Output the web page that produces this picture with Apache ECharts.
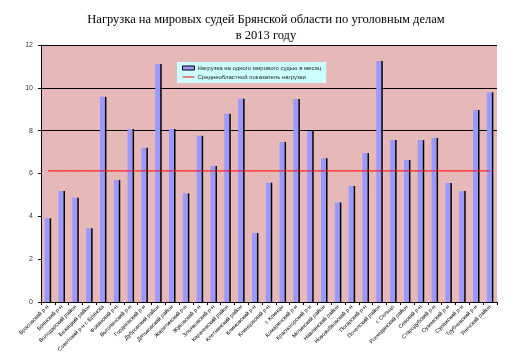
<!DOCTYPE html>
<html>
<head>
<meta charset="utf-8">
<script src="https://cdn.jsdelivr.net/npm/echarts@6/dist/echarts.min.js"></script>
<style>html,body{margin:0;padding:0;background:#fff}#c{width:532px;height:362px}</style>
</head>
<body>
<div id="c"></div>
<script>
var categories = [
  'Брасовский р-н', 'Брянский р-н', 'Володарский район', 'Бежицкий район', 'Советский р-н г. Брянска',
  'Фокинский р-н', 'Выгоничский р-н', 'Гордеевский р-н', 'Дубровский район', 'Дятьковский район',
  'Жирятинский р-н', 'Жуковский р-н', 'Злынковский р-н', 'Карачевский район', 'Клетнянский район',
  'Климовский р-н', 'Клинцовский р-н', 'г. Клинцы', 'Комаричский р-н', 'Красногорский р-н',
  'Мглинский район', 'Навлинский район', 'Новозыбковский р-н', 'Погарский р-н', 'Почепский район',
  'г. Сельцо', 'Рогнединский район', 'Севский р-н', 'Стародубский р-н', 'Суземский р-н',
  'Суражский р-н', 'Трубчевский р-н', 'Унечский район'
];
var loadPerJudge = [
  3.91, 5.18, 4.87, 3.44, 9.58, 5.70, 8.08, 7.20, 11.11, 8.08,
  5.07, 7.76, 6.35, 8.79, 9.49, 3.22, 5.57, 7.47, 9.48, 7.98,
  6.71, 4.65, 5.42, 6.96, 11.25, 7.56, 6.63, 7.56, 7.66, 5.56,
  5.18, 8.96, 9.79
];
var regionalAverage = [
  6.12, 6.12, 6.12, 6.12, 6.12, 6.12, 6.12, 6.12, 6.12, 6.12,
  6.12, 6.12, 6.12, 6.12, 6.12, 6.12, 6.12, 6.12, 6.12, 6.12,
  6.12, 6.12, 6.12, 6.12, 6.12, 6.12, 6.12, 6.12, 6.12, 6.12,
  6.12, 6.12, 6.12
];
var yTicks = [0, 2, 4, 6, 8, 10, 12];
var titleText = 'Нагрузка на мировых судей Брянской области по уголовным делам\nв 2013 году';
var seriesNames = ['Нагрузка на одного мирового судью в месяц', 'Среднеобластной показатель нагрузки'];

var chart = echarts.init(document.getElementById('c'), null, {renderer: 'canvas'});
chart.setOption({
  animation: false,
  backgroundColor: '#ffffff',
  title: {
    text: titleText,
    left: 'center',
    top: 7,
    textStyle: {fontFamily: 'Liberation Serif', fontSize: 12.5, fontWeight: 'normal', color: '#000', lineHeight: 16}
  },
  legend: {
    data: [
      {name: seriesNames[0], icon: 'rect', itemStyle: {borderColor: '#000', borderWidth: 1}},
      {name: seriesNames[1], lineStyle: {width: 1}, itemStyle: {opacity: 0}}
    ],
    orient: 'vertical',
    left: 177,
    top: 62,
    width: 169,
    padding: [3, 5, 3, 5],
    itemGap: 3,
    itemWidth: 12,
    itemHeight: 4,
    backgroundColor: '#CCFFFF',
    textStyle: {fontFamily: 'Liberation Sans', fontSize: 6, color: '#222', padding: [0, 0, 0, -2]}
  },
  grid: {left: 41, right: 35, top: 45, bottom: 60, show: true, backgroundColor: '#E6B9B8', borderWidth: 0},
  xAxis: {
    type: 'category',
    data: categories,
    axisLine: {lineStyle: {color: '#000', width: 1}},
    axisTick: {show: true, length: 3, lineStyle: {color: '#000'}},
    axisLabel: {interval: 0, rotate: 45, fontSize: 5.5, fontFamily: 'Liberation Sans', color: '#000', margin: 4}
  },
  yAxis: {
    type: 'value',
    min: yTicks[0],
    max: yTicks[yTicks.length - 1],
    interval: 2,
    axisLine: {show: true, lineStyle: {color: '#000', width: 1}},
    axisTick: {show: true, length: 3, lineStyle: {color: '#000'}},
    axisLabel: {fontSize: 7, fontFamily: 'Liberation Sans', color: '#333', margin: 8},
    splitLine: {show: true, lineStyle: {color: ['rgba(0,0,0,0)', 'rgba(0,0,0,0)', 'rgba(0,0,0,0)', 'rgba(0,0,0,0)', '#000', '#000', '#000'], width: 1}}
  },
  series: [
    {
      name: seriesNames[0],
      type: 'bar',
      data: loadPerJudge,
      barWidth: 5,
      barGap: '0%',
      itemStyle: {color: '#9999FF'}
    },
    {
      name: 'edge',
      type: 'bar',
      data: loadPerJudge,
      barWidth: 1.5,
      barGap: '0%',
      itemStyle: {color: '#000'},
      silent: true
    },
    {
      name: seriesNames[1],
      type: 'line',
      data: regionalAverage,
      symbol: 'none',
      lineStyle: {color: '#FF0000', width: 1},
      itemStyle: {color: '#FF0000'}
    }
  ]
});
</script>
</body>
</html>
